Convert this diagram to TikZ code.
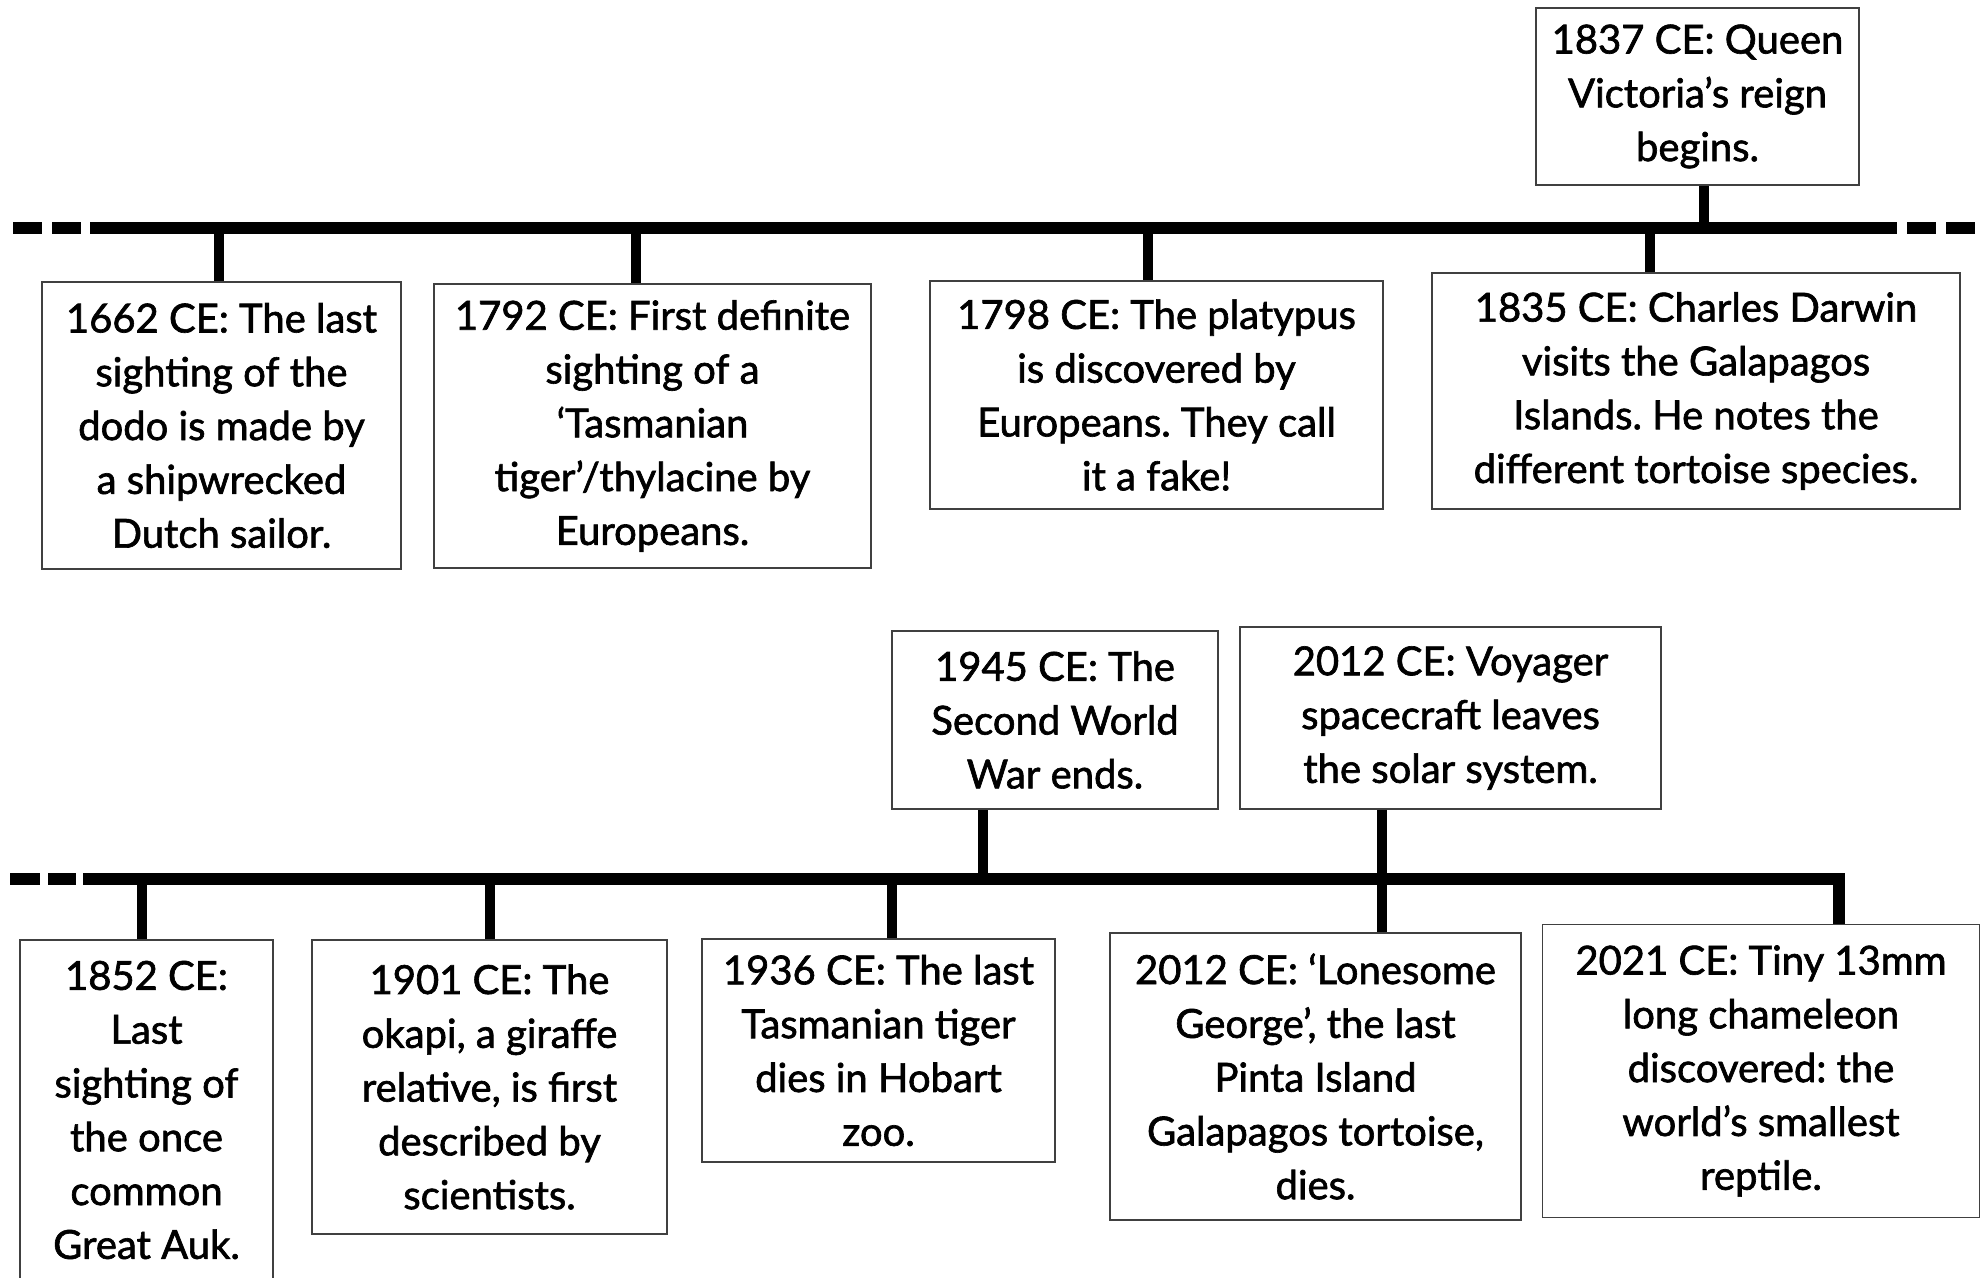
\documentclass[tikz,border=0pt]{standalone}
\usepackage{fontspec}
\setmainfont{Lato}[FakeBold=1.6]
\usetikzlibrary{positioning}

\tikzset{
  event/.style={draw=black!75, line width=0.8pt, align=center, inner sep=0pt, font=\fontsize{20}{26.9}\selectfont\frenchspacing},
  axis/.style={line width=6pt},
  tick/.style={line width=5pt},
}

\begin{document}
\begin{tikzpicture}[x=0.5pt, y=-0.5pt]
\useasboundingbox (0,0) rectangle (1982,1278);

%\draw [help lines, step=100](0,0) grid (1982,1278);
\node[event, minimum width=179.5pt, minimum height=143.5pt] (n1662) at (221.5,425.5) {1662 CE: The last\\ sighting of the\\ dodo is made by\\ a shipwrecked\\ Dutch sailor.};
\node[event, minimum width=218.5pt, minimum height=142pt] (n1792) at (652.5,426) {1792 CE: First definite\\ sighting of a\\ ‘Tasmanian\\ tiger’/thylacine by\\ Europeans.};
\node[event, minimum width=226.5pt, minimum height=114pt] (n1798) at (1156.5,395) {1798 CE: The platypus\\ is discovered by\\ Europeans. They call\\ it a fake!};
\node[event, minimum width=264pt, minimum height=118pt] (n1835) at (1696,391) {1835 CE: Charles Darwin\\ visits the Galapagos\\ Islands. He notes the\\ different tortoise species.};
\node[event, minimum width=161.5pt, minimum height=88.5pt] (n1837) at (1697.5,96.5) {1837 CE: Queen\\ Victoria’s reign\\ begins.};

\node[event, minimum width=163pt, minimum height=89pt] (n1945) at (1055,720) {1945 CE: The\\ Second World\\ War ends.};
\node[event, minimum width=210.5pt, minimum height=91pt] (n2012v) at (1450.5,718) {2012 CE: Voyager\\ spacecraft leaves\\ the solar system.};
\node[event, minimum width=126.5pt, minimum height=170pt] (n1852) at (146.5,1110) {1852 CE:\\ Last\\ sighting of\\ the once\\ common\\ Great Auk.};
\node[event, minimum width=177.5pt, minimum height=147pt] (n1901) at (489.5,1087) {1901 CE: The\\ okapi, a giraffe\\ relative, is first\\ described by\\ scientists.};
\node[event, minimum width=176.5pt, minimum height=111.5pt] (n1936) at (878.5,1050.5) {1936 CE: The last\\ Tasmanian tiger\\ dies in Hobart\\ zoo.};
\node[event, minimum width=205.5pt, minimum height=143.5pt] (n2012l) at (1315.5,1076.5) {2012 CE: ‘Lonesome\\ George’, the last\\ Pinta Island\\ Galapagos tortoise,\\ dies.};
\node[event, minimum width=218.5pt, minimum height=146.5pt] (n2021) at (1761,1071) {2021 CE: Tiny 13mm\\ long chameleon\\ discovered: the\\ world’s smallest\\ reptile.};

% upper line
\coordinate (topL) at (90,228);
\coordinate (topR) at (1897,228);
\draw [axis] (topL) -- (topR);
\foreach \a/\b in {13/42, 52/81, 1907/1936, 1946/1975}
  \draw [axis] (\a,228) -- (\b,228);
\foreach \n/\x in {1662/219, 1792/636, 1798/1148, 1835/1650, 1837/1704}
  \coordinate (t\n) at (\x,228);
\foreach \n in {1662, 1792, 1798, 1835}
  \draw [tick] (t\n) -- (t\n |- n\n.north);
\draw [tick] (t1837) -- (t1837 |- n1837.south);

% lower line
\coordinate (botL) at (83,879);
\coordinate (botR) at (1839,879);
\draw [axis, line join=miter] (botL) -- (botR) -- (botR |- n2021.north);
\foreach \a/\b in {10/40, 48/76}
  \draw [axis] (\a,879) -- (\b,879);
\foreach \n/\x in {1852/142, 1901/490, 1936/892, 1945/983, 2012/1382}
  \coordinate (b\n) at (\x,879);
\foreach \n in {1852, 1901, 1936}
  \draw [tick] (b\n) -- (b\n |- n\n.north);
\draw [tick] (b1945) -- (b1945 |- n1945.south);
\draw [tick] (b2012 |- n2012v.south) -- (b2012 |- n2012l.north);

\end{tikzpicture}
\end{document}
